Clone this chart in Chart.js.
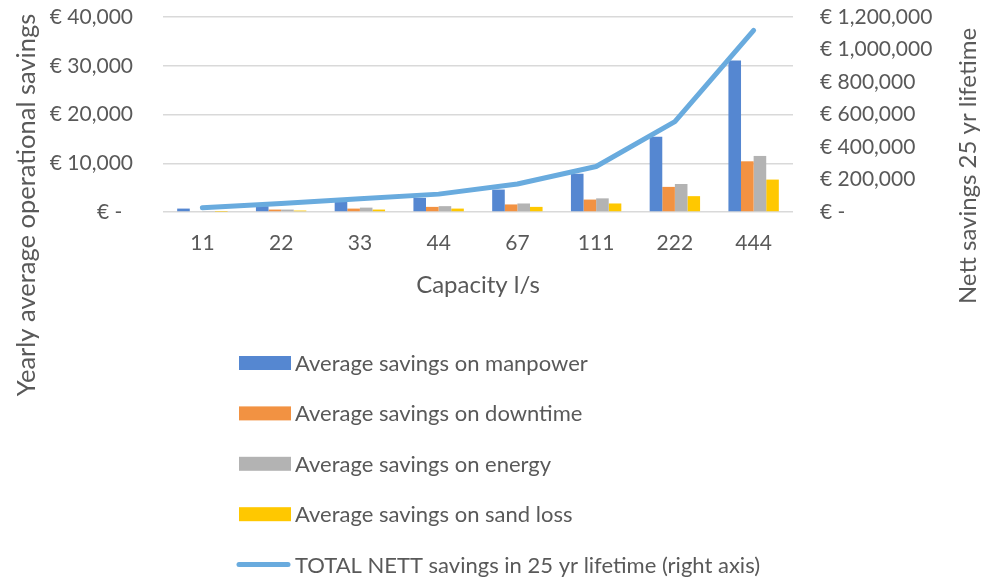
<!DOCTYPE html>
<html>
<head>
<meta charset="utf-8">
<script src="https://cdn.jsdelivr.net/npm/chart.js@4.4.1/dist/chart.umd.min.js"></script>
<style>
  html, body { margin: 0; padding: 0; background: #ffffff; }
  #wrap { width: 982px; height: 578px; }
</style>
</head>
<body>
<div id="wrap"><canvas id="chart" width="982" height="578"></canvas></div>
<script>
// Pump capacities (l/s)
const capacities = ['11', '22', '33', '44', '67', '111', '222', '444'];

// Yearly average operational savings per cost item (EUR)
const manpower = [700, 1200, 2300, 2900, 4600, 7850, 15450, 31100];
const downtime = [150, 500, 700, 1050, 1550, 2550, 5150, 10400];
const energy   = [100, 500, 900, 1200, 1750, 2800, 5750, 11500];
const sandLoss = [50, 300, 500, 700, 1050, 1750, 3250, 6650];

// Total nett savings over a 25 year lifetime (EUR, right axis)
const lifetimeTotal = [26000, 52000, 82000, 110000, 172000, 280000, 556000, 1117000];

// Axis tick values
const leftTicks = [0, 10000, 20000, 30000, 40000];
const rightTicks = [0, 200000, 400000, 600000, 800000, 1000000, 1200000];

const seriesNames = [
  'Average savings on manpower',
  'Average savings on downtime',
  'Average savings on energy',
  'Average savings on sand loss',
  'TOTAL NETT savings in 25 yr lifetime (right axis)'
];

const textColor = '#595959';
const gridColor = '#d9d9d9';
const fontFamily = 'Lato, "Open Sans", sans-serif';

function euro(v) {
  if (v === 0) return '€ -  ';
  return '€ ' + v.toLocaleString('en-US');
}

// Axis titles and the stacked legend below the plot
const decorations = {
  id: 'decorations',
  afterDraw(chart) {
    const ctx = chart.ctx;
    ctx.save();
    ctx.fillStyle = textColor;
    ctx.textAlign = 'center';
    ctx.textBaseline = 'middle';

    ctx.save();
    ctx.font = '25.5px ' + fontFamily;
    ctx.translate(27, 205);
    ctx.rotate(-Math.PI / 2);
    ctx.fillText('Yearly average operational savings', 0, 0);
    ctx.restore();

    ctx.save();
    ctx.font = '24px ' + fontFamily;
    ctx.translate(968, 166);
    ctx.rotate(-Math.PI / 2);
    ctx.fillText('Nett savings 25 yr lifetime', 0, 0);
    ctx.restore();

    // legend rows: bar series first, the line last
    ctx.font = '22px ' + fontFamily;
    const ds = chart.data.datasets;
    ds.forEach((d, row) => {
      const cy = 363 + row * 50.4;
      if (d.type === 'line') {
        ctx.strokeStyle = d.borderColor;
        ctx.lineWidth = 5;
        ctx.lineCap = 'round';
        ctx.beginPath();
        ctx.moveTo(239, cy);
        ctx.lineTo(288, cy);
        ctx.stroke();
      } else {
        ctx.fillStyle = d.backgroundColor;
        ctx.fillRect(239, cy - 7, 52, 14);
      }
      ctx.fillStyle = textColor;
      ctx.textAlign = 'left';
      ctx.fillText(d.label, 295, cy + 1);
    });
    ctx.restore();
  }
};

const barCommon = {
  type: 'bar',
  yAxisID: 'y',
  categoryPercentage: 0.64,
  barPercentage: 1.0,
  order: 1
};

function flatVertical(scale, width) {
  scale.width = width;
  scale.paddingTop = 0;
  scale.paddingBottom = 0;
}

new Chart(document.getElementById('chart'), {
  data: {
    labels: capacities,
    datasets: [
      Object.assign({ label: seriesNames[0], data: manpower, backgroundColor: '#5587d1' }, barCommon),
      Object.assign({ label: seriesNames[1], data: downtime, backgroundColor: '#f29242' }, barCommon),
      Object.assign({ label: seriesNames[2], data: energy,   backgroundColor: '#b3b3b3' }, barCommon),
      Object.assign({ label: seriesNames[3], data: sandLoss, backgroundColor: '#ffc800' }, barCommon),
      {
        type: 'line',
        label: seriesNames[4],
        data: lifetimeTotal,
        yAxisID: 'y1',
        borderColor: '#69abde',
        backgroundColor: '#69abde',
        borderWidth: 5,
        borderCapStyle: 'round',
        borderJoinStyle: 'round',
        pointRadius: 0,
        tension: 0,
        order: 0
      }
    ]
  },
  options: {
    responsive: false,
    animation: false,
    layout: { padding: { top: 17, bottom: 278, left: 0, right: 0 } },
    plugins: {
      legend: { display: false },
      tooltip: { enabled: false }
    },
    scales: {
      x: {
        grid: { display: false, drawTicks: false },
        border: { display: false },
        ticks: { color: textColor, font: { family: fontFamily, size: 21 }, padding: 19 },
        title: {
          display: true,
          text: 'Capacity l/s',
          color: textColor,
          font: { family: fontFamily, size: 24 },
          padding: { top: 4, bottom: 0 }
        },
        afterFit(scale) {
          scale.height = 88;
          scale.paddingLeft = 0;
          scale.paddingRight = 0;
        }
      },
      y: {
        position: 'left',
        min: 0,
        max: 40000,
        afterBuildTicks(scale) { scale.ticks = leftTicks.map(v => ({ value: v })); },
        ticks: {
          color: textColor,
          font: { family: fontFamily, size: 21 },
          padding: 30,
          callback: v => euro(v)
        },
        grid: { color: gridColor, lineWidth: 1.5, drawTicks: false },
        border: { display: false },
        afterFit(scale) { flatVertical(scale, 163); }
      },
      y1: {
        position: 'right',
        min: 0,
        max: 1200000,
        afterBuildTicks(scale) { scale.ticks = rightTicks.map(v => ({ value: v })); },
        ticks: {
          color: textColor,
          font: { family: fontFamily, size: 21 },
          padding: 27,
          callback: v => euro(v).trim()
        },
        grid: { display: false, drawTicks: false },
        border: { display: false },
        afterFit(scale) { flatVertical(scale, 189); }
      }
    }
  },
  plugins: [decorations]
});
</script>
</body>
</html>
